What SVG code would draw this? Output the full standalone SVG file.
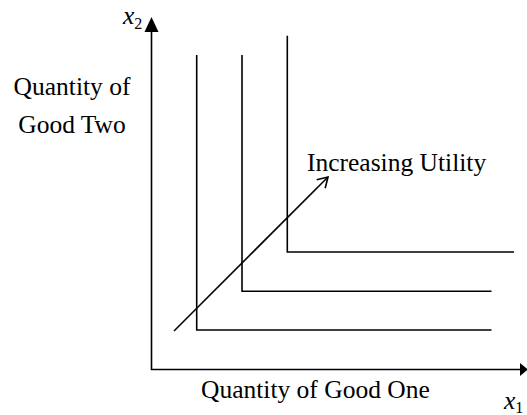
<svg xmlns="http://www.w3.org/2000/svg" width="527" height="415" viewBox="0 0 527 415">
<style>
.t{font-family:"Liberation Serif","Times New Roman",serif;font-size:25.5px;fill:#000}
.i{font-style:italic}
.s{font-size:16px}
.ln{stroke:#000;stroke-width:1.6;fill:none}
</style>
<defs>
<marker id="open" markerWidth="14" markerHeight="14" refX="11" refY="7" orient="auto" markerUnits="userSpaceOnUse">
<path d="M1,1 L11,7 L1,13" fill="none" stroke="#000" stroke-width="1.6"/>
</marker>
</defs>
<rect width="527" height="415" fill="#fff"/>
<g id="axes">
<line class="ln" x1="151.5" y1="370" x2="151.5" y2="30"/>
<polygon points="151.5,17 144.5,32 158.5,32" fill="#000"/>
<line class="ln" x1="151" y1="369.5" x2="521" y2="369.5"/>
<polygon points="528,369.5 520,363 520,376" fill="#000"/>
</g>
<g id="curve1"><polyline class="ln" points="196.7,55 196.7,330 491.5,330"/></g>
<g id="curve2"><polyline class="ln" points="242,55 242,291.3 491.5,291.3"/></g>
<g id="curve3"><polyline class="ln" points="287.3,35.7 287.3,252 514,252"/></g>
<g id="connectors">
<line class="ln" x1="174" y1="331" x2="328" y2="177" marker-end="url(#open)"/>
</g>
<g id="labels">
<text class="t i" x="123" y="24">x<tspan class="s" dy="5" font-style="normal">2</tspan></text>
<text class="t" x="72" y="95" text-anchor="middle">Quantity of</text>
<text class="t" x="72" y="133" text-anchor="middle">Good Two</text>
<text class="t" x="307" y="171">Increasing Utility</text>
<text class="t" x="201" y="398">Quantity of Good One</text>
<text class="t i" x="504" y="409">x<tspan class="s" dy="4" font-style="normal">1</tspan></text>
</g>
</svg>
